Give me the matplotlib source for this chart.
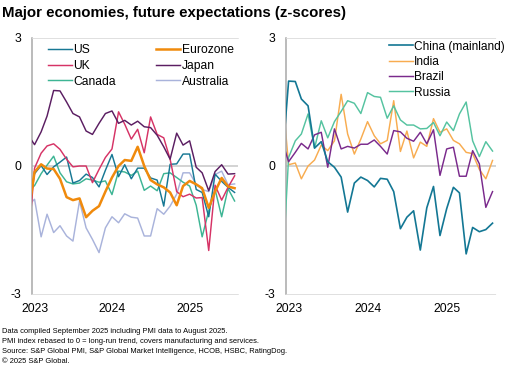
import matplotlib
matplotlib.use("Agg")
import matplotlib.pyplot as plt
import matplotlib.dates as mdates
import pandas as pd
from matplotlib import font_manager as fm

# ---------------- data (Dec 2022 .. Aug 2025, monthly) ----------------
months = pd.date_range("2022-12-01", "2025-08-01", freq="MS")

us = [-1.0, -0.18, 0.01, -0.2, -0.02, 0.09, 0.21, -0.4, -0.34, -0.19, -0.27,
      -0.49, -0.1, 0.27, -0.25, 0.03, -0.3, -0.05, -0.05, -0.28, -0.33,
      -0.94, 0.04, 0.05, 0.28, 0.28, -0.55, -0.62, -1.19, -0.19, -0.36,
      -0.5, -0.62]
eurozone = [-1.19, -0.14, 0.04, -0.06, -0.07, -0.3, -0.73, -0.8, -0.76, -1.2, -1.05,
            -0.94, -0.6, -0.27, 0.0, 0.14, 0.12, 0.45, 0.0, -0.33, -0.43,
            -0.5, -0.62, -0.92, -0.47, -0.35, -0.43, -0.52, -0.98, -0.6, -0.28,
            -0.48, -0.52]
uk = [-1.87, -0.05, 0.3, 0.47, 0.52, 0.39, 0.16, -0.02, 0.0, 0.0, -0.39,
      -0.08, 0.2, 0.4, 1.27, 0.98, 0.63, 0.86, 0.31, 1.15, 0.74,
      0.66, 0.16, -0.6, -0.72, -0.66, -0.75, -0.74, -1.98, -0.45, -0.8,
      -0.5, -0.23]
japan = [0.73, 0.5, 0.8, 1.17, 1.77, 1.76, 1.5, 1.23, 1.15, 0.82, 0.74,
         1.0, 1.23, 1.29, 1.0, 1.07, 0.96, 1.05, 0.92, 0.9, 0.72,
         0.45, 0.16, 0.77, 0.49, 0.59, -0.03, -0.16, -0.58, -0.13, 0.03,
         -0.19, -0.18]
canada = [-0.59, -0.46, -0.18, 0.02, 0.23, -0.16, -0.37, -0.42, -0.4, -0.3, -0.33,
          -0.38, -0.35, -0.67, -0.12, -0.14, -0.22, -0.12, -0.57, -0.47, -0.58,
          -0.18, -0.16, -0.27, -0.38, -0.47, -0.92, -1.66, -1.05, -0.55, -1.19,
          -0.53, -0.82]
australia = [-0.93, -0.78, -1.66, -1.13, -1.56, -1.4, -1.64, -1.76, -0.82, -1.45, -1.72,
             -2.03, -1.45, -1.19, -1.33, -1.12, -1.2, -1.22, -1.64, -1.64, -1.0,
             -1.13, -0.94, -0.66, -0.16, -0.16, -0.43, -0.55, -0.6, -0.2, -0.12,
             -0.44, -0.42]

china = [0.0, 1.99, 1.98, 1.57, 1.41, 0.42, 0.57, 0.1, -0.03, -0.26, -1.08,
         -0.4, -0.26, -0.34, -0.49, -0.29, -0.31, -0.6, -1.47, -1.2, -1.05,
         -1.97, -0.98, -0.48, -1.63, -1.0, -0.5, -0.63, -2.06, -1.44, -1.54,
         -1.49, -1.34]
india = [1.8, 0.03, 0.07, -0.3, 0.0, 0.14, 0.49, 0.36, 0.59, 1.68, 0.75,
         0.28, 0.63, 1.04, 0.71, 0.52, 0.6, 1.53, 0.34, 0.82, 0.19,
         0.56, 0.46, 1.11, 0.79, 0.87, 0.6, 0.52, 0.32, 0.29, -0.08,
         -0.3, 0.13]
brazil = [0.61, 0.1, 0.32, 0.53, 0.4, 0.73, 0.79, -0.03, 0.87, 0.4, 0.46,
          0.42, 0.51, 0.51, 0.61, 0.46, 0.28, 0.83, 0.8, 0.65, 0.58,
          0.79, 0.52, 0.85, -0.22, 0.4, 0.44, -0.24, -0.24, 0.36, 0.05,
          -0.97, -0.6]
russia = [-2.7, 0.2, 0.59, 0.75, 1.22, 0.42, 1.06, 0.66, 1.04, 1.28, 1.53,
          1.47, 1.23, 1.72, 1.63, 1.61, 1.12, 1.41, 1.08, 0.96, 0.96,
          0.87, 0.88, 1.02, 0.71, 1.03, 0.83, 1.22, 1.5, 0.59, 0.22,
          0.57, 0.35]

xtick_dates = ["2023-01-01", "2024-01-01", "2025-01-01"]
xtick_labels = ["2023", "2024", "2025"]
ytick_vals = [-3, 0, 3]
ytick_labels = ["-3", "0", "3"]

title = "Major economies, future expectations (z-scores)"
footnotes = [
    "Data compiled September 2025 including PMI data to August 2025.",
    "PMI index rebased to 0 = long-run trend, covers manufacturing and services.",
    "Source: S&P Global PMI, S&P Global Market Intelligence, HCOB, HSBC, RatingDog.",
    "\u00a9 2025 S&P Global.",
]

# ---------------- style ----------------
avail = {f.name for f in fm.fontManager.ttflist}
main_font = "Liberation Sans" if "Liberation Sans" in avail else "DejaVu Sans"
if "Liberation Sans Narrow" in avail:
    narrow_font, foot_size = "Liberation Sans Narrow", 6.6
else:
    narrow_font, foot_size = main_font, 5.45
plt.rcParams["font.family"] = [main_font, "DejaVu Sans"]

C_US = "#177894"
C_EZ = "#F08A0C"
C_UK = "#D63366"
C_JP = "#5B1E62"
C_CA = "#3DB594"
C_AU = "#A9B3DB"
C_CN = "#137794"
C_IN = "#F8AC50"
C_BR = "#7A2A8C"
C_RU = "#55C3A0"

W, H = 508, 368
fig = plt.figure(figsize=(W / 100, H / 100), dpi=100)

def px_axes(x0, x1, y0, y1):
    return fig.add_axes([x0 / W, 1 - y1 / H, (x1 - x0) / W, (y1 - y0) / H])

ax1 = px_axes(32, 238, 38, 294)
ax2 = px_axes(286, 496, 38, 294)

xlim = (pd.Timestamp("2022-12-20"), pd.Timestamp("2025-08-17"))

def style_axis(ax):
    ax.set_xlim(*xlim)
    ax.set_ylim(-3, 3)
    ax.axhline(0, color="#C8C8C8", lw=1.1, zorder=1)
    for s in ["top", "bottom"]:
        ax.spines[s].set_color("#DADADA")
        ax.spines[s].set_linestyle((0, (1, 1)))
        ax.spines[s].set_linewidth(0.6)
    ax.spines["right"].set_visible(False)
    ax.spines["left"].set_color("#A8A8A8")
    ax.spines["left"].set_linewidth(1.1)
    ax.set_yticks(ytick_vals)
    ax.set_yticklabels(ytick_labels)
    ax.set_xticks([pd.Timestamp(d) for d in xtick_dates])
    ax.set_xticklabels(xtick_labels)
    ax.tick_params(axis="both", length=0, labelsize=8.7, colors="#000000")
    ax.tick_params(axis="y", pad=8)
    ax.tick_params(axis="x", pad=6.5)
    ax.set_facecolor("none")

style_axis(ax1)
style_axis(ax2)

lw = 1.05
l_au, = ax1.plot(months, australia, color=C_AU, lw=lw, label="Australia", zorder=2)
l_ca, = ax1.plot(months, canada, color=C_CA, lw=lw, label="Canada", zorder=3)
l_us, = ax1.plot(months, us, color=C_US, lw=lw, label="US", zorder=4)
l_uk, = ax1.plot(months, uk, color=C_UK, lw=lw, label="UK", zorder=5)
l_jp, = ax1.plot(months, japan, color=C_JP, lw=lw, label="Japan", zorder=5)
l_ez, = ax1.plot(months, eurozone, color=C_EZ, lw=1.8, label="Eurozone", zorder=6)

l_in, = ax2.plot(months, india, color=C_IN, lw=lw, label="India", zorder=2)
l_ru, = ax2.plot(months, russia, color=C_RU, lw=lw, label="Russia", zorder=3)
l_br, = ax2.plot(months, brazil, color=C_BR, lw=lw, label="Brazil", zorder=4)
l_cn, = ax2.plot(months, china, color=C_CN, lw=1.2, label="China (mainland)", zorder=5)

leg1 = ax1.legend([l_us, l_uk, l_ca, l_ez, l_jp, l_au],
                  ["US", "UK", "Canada", "Eurozone", "Japan", "Australia"],
                  ncol=2, loc="upper left", bbox_to_anchor=(16 / 206, 0.975),
                  frameon=False, fontsize=8.7, handlelength=2.0, handletextpad=0.12,
                  columnspacing=3.3, labelspacing=0.3, borderpad=0, borderaxespad=0)
leg2 = ax2.legend([l_cn, l_in, l_br, l_ru],
                  ["China (mainland)", "India", "Brazil", "Russia"],
                  loc="upper left", bbox_to_anchor=(103 / 210, 0.99),
                  frameon=False, fontsize=8.6, handlelength=2.0, handletextpad=0.1,
                  labelspacing=0.28, borderpad=0, borderaxespad=0)

fig.text(2 / W, 1 - 16.5 / H, title, fontsize=10.8, fontweight="bold",
         ha="left", va="baseline")

for i, line in enumerate(footnotes):
    fig.text(2 / W, 1 - (331.7 + 10 * i) / H, line, fontsize=foot_size,
             family=[narrow_font, "DejaVu Sans"], ha="left", va="center",
             color="#000000")

fig.savefig("out.png", dpi=100)
